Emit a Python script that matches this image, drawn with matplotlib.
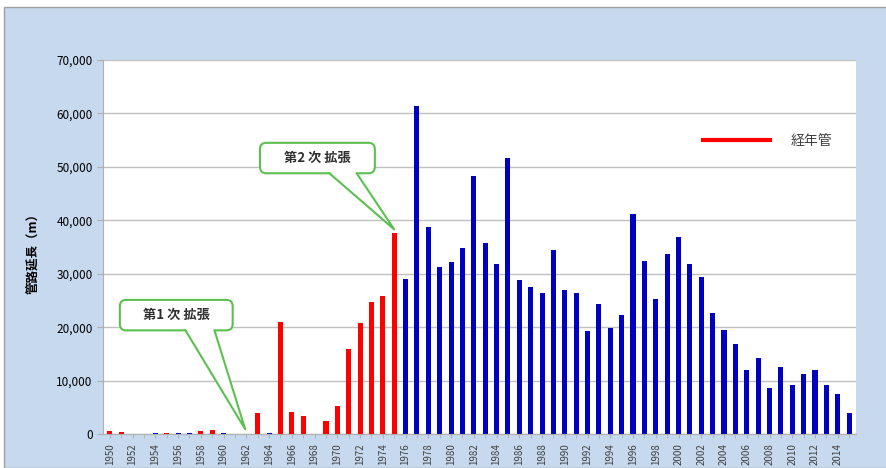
import matplotlib
matplotlib.use('Agg')
import matplotlib.pyplot as plt
from matplotlib.patches import FancyBboxPatch, Polygon, Rectangle
from matplotlib.lines import Line2D
from matplotlib.ticker import FuncFormatter, MultipleLocator

plt.rcParams['font.family'] = ['Noto Sans CJK JP', 'DejaVu Sans']

years = list(range(1950, 2016))
# 経年管 (red)
aged = [500, 400, 0, 0, 0, 200, 0, 0, 600, 800,
        0, 0, 0, 3900, 0, 20900, 4200, 3400, 0, 2400,
        5200, 16000, 20700, 24700, 25800, 37700] + [0] * 40
# others (blue)
other = [0, 0, 0, 0, 200, 0, 200, 200, 0, 0,
         200, 0, 0, 0, 200, 0, 0, 0, 0, 0,
         0, 0, 0, 0, 0, 0,
         29000, 61400, 38700, 31300, 32100, 34800, 48200, 35700, 31900, 51700,
         28900, 27500, 26400, 34400, 27000, 26300, 19200, 24400, 19800, 22300,
         41200, 32400, 25300, 33700, 36800, 31800, 29300, 22600, 19400, 16900,
         12000, 14200, 8700, 12600, 9100, 11200, 12000, 9200, 7400, 4000]
legend_label = '経年管'
ylabel = '管路延長（m）'
callouts = ['第1 次 拡張', '第2 次 拡張']

fig = plt.figure(figsize=(8.86, 4.68), dpi=100)
fig.patch.set_facecolor('white')
fig.patches.append(Rectangle((4 / 886, 0), 1, 1 - 7 / 468, transform=fig.transFigure,
                             facecolor='#c6d9ee', edgecolor='#a0a0a0', lw=1, zorder=-10))

ax = fig.add_axes([103 / 886, 34 / 468, 753 / 886, 374 / 468])
ax.set_facecolor('white')
x = list(range(len(years)))
ax.bar(x, aged, width=0.45, color='#ff0000', zorder=3)
ax.bar(x, other, width=0.45, color='#0000c0', zorder=3)

ax.set_xlim(-0.6, len(years) - 0.4)
ax.set_ylim(0, 70000)
ax.yaxis.set_major_locator(MultipleLocator(10000))
ax.yaxis.set_major_formatter(FuncFormatter(lambda v, p: '{:,.0f}'.format(v)))
ax.grid(axis='y', color='#c0c0c0', lw=1, zorder=0)
ax.set_xticks(x[::2])
ax.set_xticklabels([str(y) for y in years[::2]], rotation=90, fontsize=7, color='#404040')
ax.set_xticks(x, minor=True)
for s in ['top', 'right']:
    ax.spines[s].set_visible(False)
for s in ['left', 'bottom']:
    ax.spines[s].set_color('#b0b0b0')
ax.tick_params(axis='y', labelsize=8.5, colors='#b0b0b0', labelcolor='black', length=4)
ax.tick_params(axis='x', which='both', colors='#b0b0b0', length=3)
ax.tick_params(axis='x', labelcolor='#404040')

fig.text(34 / 886, 1 - 250 / 468, ylabel, rotation=90, ha='center', va='center',
         fontsize=9, fontweight='bold')

ax.legend(handles=[Line2D([], [], color='#ff0000', lw=3)], labels=[legend_label],
          frameon=False, loc='upper left', bbox_to_anchor=(0.78, 0.835),
          handlelength=4.8, handletextpad=1.5, fontsize=10, labelcolor='#404040')


def callout(box, base, tip, text):
    x0, y0, x1, y1 = box
    green = '#5cc050'
    b = FancyBboxPatch((x0, y0), x1 - x0, y1 - y0,
                       boxstyle='round,pad=0,rounding_size=0.55', mutation_aspect=2200,
                       facecolor='white', edgecolor=green, lw=1.5, zorder=5, clip_on=False)
    ax.add_patch(b)
    ax.add_patch(Polygon([(base[0], y0 + 300), tip, (base[1], y0 + 300)],
                         closed=True, facecolor='white', edgecolor='none', zorder=6, clip_on=False))
    ax.plot([base[0], tip[0], base[1]], [y0, tip[1], y0], color=green, lw=1.5, zorder=7,
            clip_on=False)
    ax.text((x0 + x1) / 2, (y0 + y1) / 2, text, ha='center', va='center', fontsize=9.5,
            fontweight='bold', color='#303030', zorder=8)


callout((0.88, 19400, 10.8, 25100), (6.65, 9.2), (11.9, 900), callouts[0])
callout((13.2, 48800, 23.3, 54500), (19.3, 21.7), (25.0, 38300), callouts[1])

fig.savefig('out.png', dpi=100, facecolor=fig.get_facecolor())
plt.close(fig)
